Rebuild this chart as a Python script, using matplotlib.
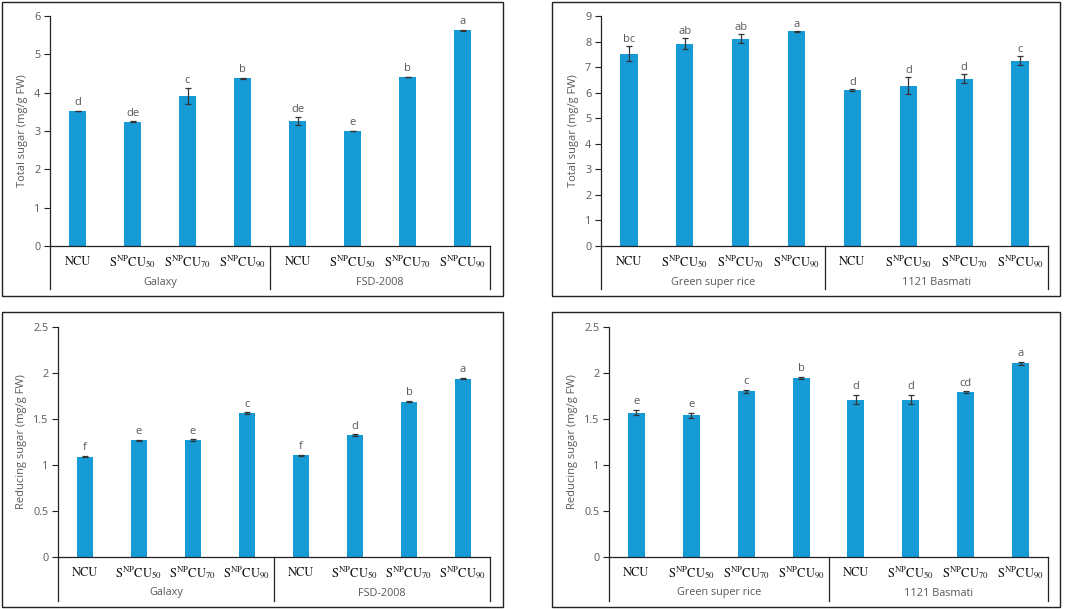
import numpy as np
import matplotlib
matplotlib.use("Agg")
import matplotlib.pyplot as plt
from matplotlib.patches import Rectangle

plt.rcParams['font.family'] = ['Open Sans', 'DejaVu Sans']
plt.rcParams['mathtext.fontset'] = 'stix'

treatments = ['NCU', r'S$^{\mathrm{NP}}$CU$_{50}$', r'S$^{\mathrm{NP}}$CU$_{70}$', r'S$^{\mathrm{NP}}$CU$_{90}$']

# top-left: total sugar, Galaxy / FSD-2008
ts_wheat = [3.52, 3.24, 3.91, 4.37, 3.26, 3.00, 4.41, 5.63]
ts_wheat_err = [0.01, 0.01, 0.20, 0.02, 0.10, 0.01, 0.01, 0.01]
ts_wheat_let = ['d', 'de', 'c', 'b', 'de', 'e', 'b', 'a']

# top-right: total sugar, Green super rice / 1121 Basmati
ts_rice = [7.53, 7.92, 8.11, 8.40, 6.11, 6.28, 6.55, 7.25]
ts_rice_err = [0.28, 0.20, 0.17, 0.02, 0.05, 0.34, 0.17, 0.17]
ts_rice_let = ['bc', 'ab', 'ab', 'a', 'd', 'd', 'd', 'c']

# bottom-left: reducing sugar, Galaxy / FSD-2008
rs_wheat = [1.09, 1.27, 1.27, 1.565, 1.105, 1.326, 1.69, 1.94]
rs_wheat_err = [0.007, 0.006, 0.008, 0.007, 0.006, 0.006, 0.007, 0.008]
rs_wheat_let = ['f', 'e', 'e', 'c', 'f', 'd', 'b', 'a']

# bottom-right: reducing sugar, Green super rice / 1121 Basmati
rs_rice = [1.57, 1.54, 1.80, 1.945, 1.71, 1.71, 1.79, 2.105]
rs_rice_err = [0.025, 0.025, 0.015, 0.015, 0.05, 0.05, 0.01, 0.02]
rs_rice_let = ['e', 'e', 'c', 'b', 'd', 'd', 'cd', 'a']

W, H = 1072, 609
fig = plt.figure(figsize=(W / 100, H / 100), dpi=100)

bar_col = '#179BD7'
txt_col = '#595959'


def px_axes(l, t, r, b):
    return fig.add_axes([l / W, 1 - b / H, (r - l) / W, (b - t) / H])


def box(l, t, r, b):
    fig.patches.append(Rectangle((l / W, 1 - b / H), (r - l) / W, (b - t) / H,
                                 transform=fig.transFigure, fill=False,
                                 edgecolor='#222222', linewidth=1.0))


def panel(ax, vals, errs, lets, groups, ymax, ystep, ylabel, off, lab_y, grp_y, line_y):
    x = np.arange(len(vals))
    ax.bar(x, vals, width=0.31, color=bar_col, zorder=2)
    ax.errorbar(x, vals, yerr=errs, fmt='none', ecolor='#333333',
                elinewidth=0.9, capsize=2.5, capthick=0.9, zorder=3)
    for xi, v, e, l in zip(x, vals, errs, lets):
        ax.text(xi, v + e + off, l, ha='center', va='bottom', fontsize=8, color=txt_col)
    ax.set_xlim(-0.5, 7.5)
    ax.set_ylim(0, ymax)
    ax.set_yticks(np.arange(0, ymax + 1e-9, ystep))
    ax.set_yticklabels([('%g' % t) for t in np.arange(0, ymax + 1e-9, ystep)])
    ax.tick_params(axis='y', length=4, width=0.8, colors='#222222', labelcolor=txt_col, labelsize=7.8, pad=3)
    ax.set_xticks([])
    for s in ['top', 'right']:
        ax.spines[s].set_visible(False)
    ax.spines['left'].set_linewidth(0.9)
    ax.spines['bottom'].set_linewidth(0.9)
    ax.spines['left'].set_color('#222222')
    ax.spines['bottom'].set_color('#222222')
    ax.set_ylabel(ylabel, fontsize=8, color=txt_col, labelpad=4)
    tr = ax.get_xaxis_transform()
    for i in range(8):
        ax.text(i, lab_y, treatments[i % 4], transform=tr, ha='center', va='center',
                fontsize=9, family='STIXGeneral', color='#111111')
    for gi, g in enumerate(groups):
        ax.text(1.5 + 4 * gi, grp_y, g, transform=tr, ha='center', va='center',
                fontsize=7.8, color=txt_col)
    for xs in [-0.5, 3.5, 7.5]:
        ax.plot([xs, xs], [0, line_y], transform=tr, color='#222222',
                linewidth=0.9, clip_on=False)


wheat = ['Galaxy', 'FSD-2008']
rice = ['Green super rice', '1121 Basmati']

box(2, 2, 503, 296)
box(552, 2, 1060, 296)
box(2, 312, 503, 607)
box(552, 312, 1060, 607)

ax1 = px_axes(50, 16, 490, 246)
panel(ax1, ts_wheat, ts_wheat_err, ts_wheat_let, wheat, 6, 1,
      'Total sugar (mg/g FW)', 0.06, -16 / 230, -37 / 230, -43 / 230)

ax2 = px_axes(601, 16, 1048, 246)
panel(ax2, ts_rice, ts_rice_err, ts_rice_let, rice, 9, 1,
      'Total sugar (mg/g FW)', 0.04, -16 / 230, -37 / 230, -43 / 230)

ax3 = px_axes(58, 327, 490, 557)
panel(ax3, rs_wheat, rs_wheat_err, rs_wheat_let, wheat, 2.5, 0.5,
      'Reducing sugar (mg/g FW)', 0.03, -16 / 230, -36 / 230, -44 / 230)

ax4 = px_axes(609, 327, 1048, 557)
panel(ax4, rs_rice, rs_rice_err, rs_rice_let, rice, 2.5, 0.5,
      'Reducing sugar (mg/g FW)', 0.03, -16 / 230, -36 / 230, -44 / 230)

fig.savefig('out.png', dpi=100, facecolor='white')
